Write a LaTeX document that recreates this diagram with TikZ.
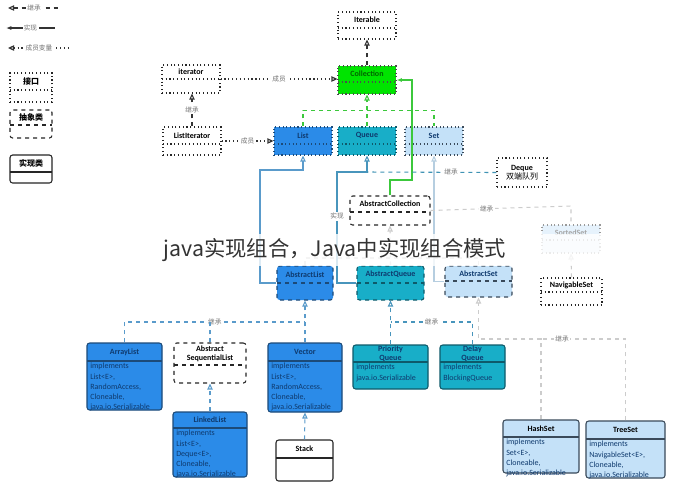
\documentclass[tikz,border=0pt]{standalone}
\usepackage{fontspec}
\setmainfont{Carlito}
\newfontfamily\cjk{Noto Sans CJK SC}
\usetikzlibrary{arrows.meta,fit}
\definecolor{bl}{HTML}{2B8BE8}\definecolor{blb}{HTML}{1C4A78}
\definecolor{tl}{HTML}{18AEC8}\definecolor{tlb}{HTML}{0E5A6A}
\definecolor{lb}{HTML}{C4E1F8}\definecolor{lbb}{HTML}{3A4A5A}
\definecolor{gr}{HTML}{00E400}\definecolor{grl}{HTML}{3CC83C}
\definecolor{fb}{HTML}{E6F2FC}\definecolor{ln}{HTML}{5A9BCB}
\definecolor{txt}{HTML}{0F3A6E}
\tikzset{
 iface/.style={draw=black!85,dotted,line width=0.8pt,fill=white},
 absc/.style={draw=black!85,dashed,line width=0.8pt,fill=white,rounded corners=2pt},
 implw/.style={draw=black!85,line width=0.8pt,fill=white,rounded corners=2pt},
 iblue/.style={draw=blb,dotted,line width=0.8pt,fill=bl},
 iteal/.style={draw=tlb,dotted,line width=0.8pt,fill=tl},
 ilight/.style={draw=lbb,dotted,line width=0.8pt,fill=lb},
 ifaint/.style={draw=black!40,dotted,line width=0.8pt,fill=fb},
 igreen/.style={draw=black!70,dotted,line width=0.8pt,fill=gr},
 ablue/.style={draw=blb,dashed,line width=0.8pt,fill=bl,rounded corners=2pt},
 ateal/.style={draw=tlb,dashed,line width=0.8pt,fill=tl,rounded corners=2pt},
 alight/.style={draw=lbb,dashed,line width=0.8pt,fill=lb,rounded corners=2pt},
 cblue/.style={draw=blb,line width=0.8pt,fill=bl,rounded corners=2pt},
 cteal/.style={draw=tlb,line width=0.8pt,fill=tl,rounded corners=2pt},
 clight/.style={draw=lbb,line width=0.8pt,fill=lb,rounded corners=2pt},
 ttl/.style={font=\bfseries\fontsize{6}{7}\selectfont,align=center,inner sep=0pt},
 bdy/.style={font=\fontsize{6}{7.7}\selectfont,align=left,inner sep=0pt,text=txt},
 lbl/.style={font=\cjk\fontsize{5}{6}\selectfont,fill=white,inner sep=1pt,text=black!55},
 tri/.style={-{Triangle[open,length=4.5pt,width=4pt]}},
 inh/.style={dashed,line width=0.8pt},
 mem/.style={dotted,line width=0.9pt,black!80},
}
\newcommand\ubox[9]{%
 \node[#7,fit={(#2,#3)(#4,#5)},inner sep=0pt] (#1) {};
 \draw[#7,fill=none,rounded corners=0pt] (#2,#6) -- (#4,#6);
 \node[ttl] at ({(#2+#4)/2},{(#3+#6)/2}) {#8};
 \node[bdy,anchor=north west] at (#2+3,#6+2) {#9};}
\begin{document}
\begin{tikzpicture}[x=0.75pt,y=-0.75pt]
\useasboundingbox[fill=white] (0,0) rectangle (674,490);
% legend
\coordinate (l1a) at (8,8);\coordinate (l1b) at (60,8);
\draw[inh,black!80,{Triangle[open,length=4.5pt,width=4pt]}-] (l1a) -- node[lbl]{继承} (l1b);
\coordinate (l2a) at (6,28);\coordinate (l2b) at (55,28);
\draw[line width=0.9pt,black!80,{Latex[length=4pt]}-] (l2a) -- node[lbl]{实现} (l2b);
\coordinate (l3a) at (8,48);\coordinate (l3b) at (70,48);
\draw[mem,{Triangle[open,length=4.5pt,width=4pt]}-] (l3a) -- node[lbl]{成员变量} (l3b);
\ubox{lgi}{10}{73}{52}{102}{90}{iface}{\cjk 接口}{}
\ubox{lga}{10}{110}{52}{138}{125}{absc}{\cjk 抽象类}{}
\ubox{lgc}{10}{155}{52}{183}{172}{implw}{\cjk 实现类}{}
% interfaces
\ubox{Iterable}{338}{12}{396}{39}{28}{iface}{Iterable}{}
\ubox{Collection}{338}{66}{396}{94}{82}{igreen}{\color{black!60!green}Collection}{}
\ubox{iterator}{162}{65}{220}{93}{79}{iface}{iterator}{}
\ubox{ListIterator}{163}{127}{221}{155}{144}{iface}{ListIterator}{}
\ubox{List}{274}{127}{332}{155}{144}{iblue}{\color{txt}List}{}
\ubox{Queue}{338}{127}{396}{155}{144}{iteal}{\color{txt}Queue}{}
\ubox{Set}{405}{127}{463}{155}{144}{ilight}{\color{txt}Set}{}
\node[iface,minimum width=37.5pt,minimum height=21.75pt,font=\fontsize{6}{7}\selectfont,align=center,inner sep=0pt] (Deque) at (522,172.5) {\textbf{Deque}\\{\cjk 双端队列}};
\ubox{SortedSet}{542}{225}{600}{253}{240}{ifaint}{\color{black!35}SortedSet}{}
\ubox{NavigableSet}{541}{278}{602}{305}{292}{iface}{NavigableSet}{}
% abstract
\ubox{AC}{350}{196}{430}{225}{212}{absc}{AbstractCollection}{}
\ubox{AL}{277}{266}{333}{300}{283}{ablue}{\color{txt}AbstractList}{}
\ubox{AQ}{357}{266}{424}{300}{283}{ateal}{\color{txt}AbstractQueue}{}
\ubox{AS}{445}{266}{512}{297}{281}{alight}{\color{txt}AbstractSet}{}
\ubox{ASL}{174}{343}{246}{383}{365}{absc}{Abstract\\SequentialList}{}
% classes
\ubox{ArrayList}{87}{343}{162}{410}{361}{cblue}{\color{txt}ArrayList}{implements\\List<E>,\\RandomAccess,\\Cloneable,\\java.io.Serializable}
\ubox{Vector}{268}{343}{342}{412}{361}{cblue}{\color{txt}Vector}{implements\\List<E>,\\RandomAccess,\\Cloneable,\\java.io.Serializable}
\ubox{LinkedList}{173}{412}{247}{477}{428}{cblue}{\color{txt}LinkedList}{implements\\List<E>,\\Deque<E>,\\Cloneable,\\java.io.Serializable}
\ubox{Stack}{276}{440}{333}{481}{458}{implw}{Stack}{}
\ubox{PQ}{353}{345}{428}{389}{362}{cteal}{\color{txt}Priority\\\color{txt}Queue}{implements\\java.io.Serializable}
\ubox{DQ}{440}{345}{505}{389}{362}{cteal}{\color{txt}Delay\\\color{txt}Queue}{implements\\BlockingQueue}
\ubox{HashSet}{503}{420}{579}{473}{437}{clight}{HashSet}{implements\\Set<E>,\\Cloneable,\\java.io.Serializable}
\ubox{TreeSet}{586}{421}{665}{478}{439}{clight}{TreeSet}{implements\\NavigableSet<E>,\\Cloneable,\\java.io.Serializable}
% connectors
\draw[inh,black!80,tri] (Collection.north) -- (Iterable.south);
\draw[mem,tri] (iterator.east) -- node[lbl]{成员} (iterator.east -| Collection.west);
\draw[inh,black!80,tri] (ListIterator.north) -- node[lbl]{继承} (ListIterator.north |- iterator.south);
\draw[mem,tri] (ListIterator.east) -- node[lbl]{成员} (ListIterator.east -| List.west);
\draw[inh,grl] (List.north) -- ++(0,-16) -| (Set.north);
\draw[inh,grl,tri] (Queue.north) -- (Collection.south);
\draw[line width=0.9pt,grl,-{Latex[length=4pt]}] (AC.north) -- (390,180) -- (412,180) -- (412,80) -- (Collection.east);
\draw[line width=0.8pt,ln,tri] (AL.west) -- (260,283) -- (260,170) -- (303,170) -- (List.south);
\draw[line width=0.8pt,ln!80!teal,tri] (AQ.west) -- (337,283) -- node[lbl,pos=0.6]{实现} (337,172) -- (367,172) -- (Queue.south);
\draw[inh,ln!70!teal] (Deque.west) -- node[lbl,pos=0.35]{继承} (367,172);
\draw[line width=0.8pt,lb!80!gray,tri] (AS.west) -- (434,281.5) -- (Set.south);
\draw[inh,black!20] (AC.east) -- node[lbl,pos=0.4]{继承} (571,206) -- (SortedSet.north);
\draw[inh,black!20,tri] (NavigableSet.north) -- (SortedSet.south);
\draw[inh,black!20] (AL.north) -- (305,258) -- (478.5,258) -- (AS.north);
\draw[inh,black!20,tri] (AQ.north) -- (AC.south);
\draw[inh,ln] (ArrayList.north) -- (124.5,322) -- node[lbl]{继承} (305,322);
\draw[inh,ln] (ASL.north) -- (210,322);
\draw[inh,ln,tri] (Vector.north) -- (AL.south);
\draw[inh,ln,tri] (LinkedList.north) -- (ASL.south);
\draw[inh,ln,tri] (Stack.north) -- (Vector.south);
\draw[inh,ln!80!teal,tri] (PQ.north) -- (AQ.south);
\draw[inh,ln!80!teal] (DQ.north) -- (472.5,322) -- node[lbl]{继承} (390.5,322);
\draw[inh,black!20,tri] (HashSet.north) -- (541,339) -- (478.5,339) -- (AS.south);
\draw[inh,black!20] (TreeSet.north) -- (625.5,339) -- node[lbl,pos=0.75]{继承} (541,339);
% overlay band
\fill[white,opacity=0.8] (30,234) rectangle (640,266);
\node[font=\cjk\fontsize{16}{18}\selectfont,text=black!80,inner sep=0pt] (band) at (335,250) {java实现组合，Java中实现组合模式};
\end{tikzpicture}
\end{document}
